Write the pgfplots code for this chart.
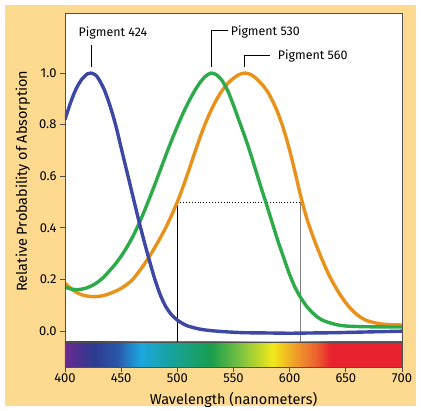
\documentclass[border=0pt]{standalone}
\usepackage{pgfplots}
\pgfplotsset{compat=1.18}
\usepackage{fontspec}
\setmainfont{Fira Sans}

\definecolor{beige}{HTML}{FDDA90}
\definecolor{frame}{HTML}{505050}
\definecolor{pblue}{HTML}{3D47A4}
\definecolor{pgreen}{HTML}{2DAA4A}
\definecolor{porange}{HTML}{E8921C}
% spectrum colours
\definecolor{s400}{HTML}{6B2A90}
\definecolor{s425}{HTML}{2D3A8E}
\definecolor{s446}{HTML}{2B56A8}
\definecolor{s467}{HTML}{1DA6DF}
\definecolor{s493}{HTML}{17A3A0}
\definecolor{s530}{HTML}{1A9E4E}
\definecolor{s556}{HTML}{7CC242}
\definecolor{s585}{HTML}{F2E81A}
\definecolor{s606}{HTML}{EF9A2A}
\definecolor{s624}{HTML}{EC6030}
\definecolor{s636}{HTML}{E8232F}
% path box maps to 25bp..75bp, i.e. 400..700 nm
\pgfdeclarehorizontalshading{spectrum}{100bp}{%
  color(0bp)=(s400); color(25bp)=(s400); color(29.17bp)=(s425);
  color(32.67bp)=(s446); color(36.17bp)=(s467); color(40.5bp)=(s493);
  color(46.67bp)=(s530); color(51bp)=(s556); color(55.83bp)=(s585);
  color(59.33bp)=(s606); color(62.33bp)=(s624); color(64.33bp)=(s636);
  color(75bp)=(s636); color(100bp)=(s636)}

\begin{document}
\begin{tikzpicture}
\fill[white] (-65bp,-44bp) rectangle (356bp,367bp);
\fill[beige] (-60bp,-39bp) rectangle (351bp,362bp);
\begin{axis}[
    scale only axis,
    width=337bp, height=354bp,
    xmin=400, xmax=700, ymin=-0.14, ymax=1.233,
    axis background/.style={fill=white},
    axis on top,
    axis line style={frame, line width=0.8bp},
    tick style={frame, line width=0.8bp},
    tick align=outside,
    major tick length=5bp,
    xtick={400,450,...,700},
    ytick={0,0.2,...,1.0},
    xtick pos=left, ytick pos=left,
    /pgf/number format/assume math mode=true,
    xticklabel style={font=\fontsize{13}{13}\selectfont, inner sep=2bp},
    yticklabel style={font=\fontsize{13}{13}\selectfont, /pgf/number format/fixed, /pgf/number format/fixed zerofill, /pgf/number format/precision=1},
    xlabel={Wavelength (nanometers)},
    ylabel={Relative Probability of Absorption},
    xlabel style={font=\fontsize{14.5}{14.5}\selectfont, at={(axis description cs:0.5,-0.092)}, anchor=center},
    ylabel style={font=\fontsize{14.5}{14.5}\selectfont, at={(axis description cs:-0.125,0.525)}, anchor=center},
  ]
% spectrum strip
\path[shading=spectrum] (axis cs:400,-0.14) rectangle (axis cs:700,-0.043);
\draw[frame, line width=0.8bp] (axis cs:400,-0.043) -- (axis cs:700,-0.043);
% guide lines at half maximum
\draw[black, line width=0.6bp] (axis cs:500,-0.043) -- (axis cs:500,0.5);
\draw[gray, line width=0.9bp] (axis cs:610,-0.043) -- (axis cs:610,0.5);
\draw[black, dotted, line width=0.9bp] (axis cs:500,0.5) -- (axis cs:610,0.5);

\addplot[porange, line width=3.4bp, smooth] coordinates {
(400,0.185) (405,0.165) (410,0.15) (415,0.14) (420,0.135) (425,0.133)
(430,0.134) (435,0.138) (440,0.145) (445,0.154) (450,0.165) (455,0.18)
(460,0.198) (465,0.225) (470,0.255) (475,0.288) (480,0.324) (485,0.362)
(490,0.403) (495,0.45) (500,0.50) (505,0.558) (510,0.62) (515,0.685)
(520,0.748) (525,0.805) (530,0.855) (535,0.898) (540,0.933) (545,0.96)
(550,0.98) (555,0.994) (560,1.0) (565,0.995) (570,0.98) (575,0.958)
(580,0.93) (585,0.89) (590,0.84) (595,0.777) (600,0.70) (605,0.612)
(610,0.52) (615,0.44) (620,0.375) (625,0.318) (630,0.265) (635,0.217)
(640,0.176) (645,0.14) (650,0.109) (655,0.083) (660,0.063) (665,0.048)
(670,0.038) (680,0.028) (690,0.024) (700,0.023)};

\addplot[pgreen, line width=3.4bp, smooth] coordinates {
(400,0.17) (405,0.163) (410,0.16) (415,0.162) (420,0.168) (425,0.178)
(430,0.192) (435,0.211) (440,0.235) (445,0.26) (450,0.29) (455,0.324)
(460,0.363) (465,0.408) (470,0.458) (475,0.512) (480,0.568) (485,0.626)
(490,0.684) (495,0.74) (500,0.793) (505,0.843) (510,0.888) (515,0.928)
(520,0.962) (525,0.987) (530,1.0) (535,0.993) (540,0.97) (545,0.93)
(550,0.875) (555,0.815) (560,0.755) (565,0.69) (570,0.62) (575,0.55)
(580,0.482) (585,0.412) (590,0.343) (595,0.28) (600,0.218) (605,0.167)
(610,0.128) (615,0.096) (620,0.072) (625,0.053) (630,0.04) (640,0.026)
(650,0.019) (670,0.016) (700,0.015)};

\addplot[pblue, line width=3.4bp, smooth] coordinates {
(400,0.82) (405,0.886) (410,0.94) (415,0.976) (420,0.997) (423,1.0)
(427,0.993) (430,0.977) (435,0.935) (440,0.874) (445,0.80) (450,0.71)
(455,0.62) (460,0.53) (465,0.44) (470,0.355) (475,0.275) (480,0.20)
(485,0.138) (490,0.092) (495,0.062) (500,0.042) (505,0.028) (510,0.018)
(520,0.007) (530,0.001) (545,-0.004) (560,-0.007) (580,-0.008)
(600,-0.009) (620,-0.008) (640,-0.007) (660,-0.005) (680,-0.003) (700,-0.001)};

% pigment labels
\draw[black, line width=0.6bp] (axis cs:423,1.025) -- (axis cs:423,1.108);
\node[font=\fontsize{12.5}{12.5}\selectfont, anchor=center] at (axis cs:442.7,1.157) {Pigment 424};
\draw[black, line width=0.6bp] (axis cs:530,1.025) |- (axis cs:545,1.165);
\node[font=\fontsize{12.5}{12.5}\selectfont, anchor=west, inner sep=1bp] at (axis cs:546.5,1.159) {Pigment 530};
\draw[black, line width=0.6bp] (axis cs:560,1.025) |- (axis cs:582.5,1.07);
\node[font=\fontsize{12.5}{12.5}\selectfont, anchor=west, inner sep=1bp] at (axis cs:588.5,1.066) {Pigment 560};
\end{axis}
\end{tikzpicture}
\end{document}
